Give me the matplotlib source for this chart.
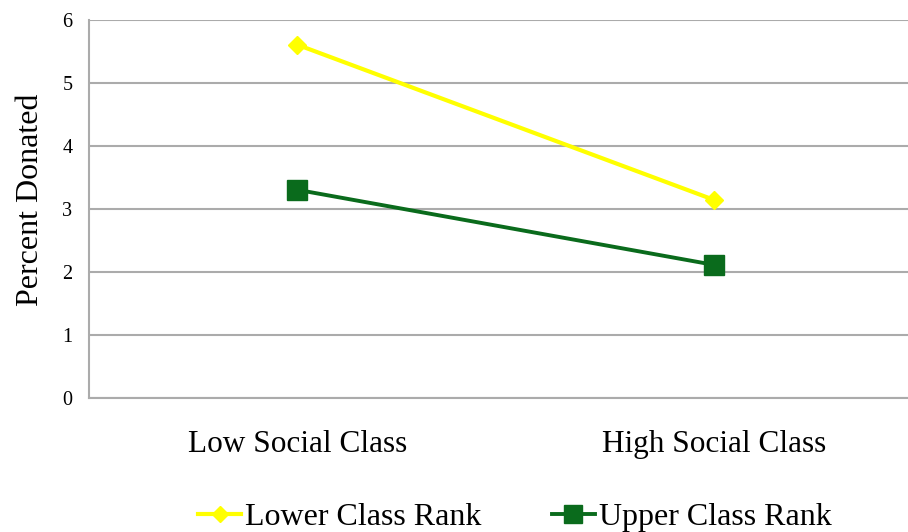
import matplotlib
matplotlib.use("Agg")
import matplotlib.pyplot as plt
from matplotlib.lines import Line2D

categories = ["Low Social Class", "High Social Class"]
lower_rank = [5.6, 3.14]
upper_rank = [3.3, 2.11]
series_names = ["Lower Class Rank", "Upper Class Rank"]
y_ticks = [0, 1, 2, 3, 4, 5, 6]

plt.rcParams["font.family"] = ["Liberation Serif", "DejaVu Serif"]

fig = plt.figure(figsize=(9.08, 5.32), dpi=100)
ax = fig.add_axes([0.098, 0.2519, 0.918, 0.7114])

x = list(range(len(categories)))
yellow = "#ffff00"
green = "#0a6b1c"

ax.plot(x, lower_rank, color=yellow, lw=3.0, marker="D", ms=9.5,
        markeredgecolor=yellow, markerfacecolor=yellow, zorder=3)
ax.plot(x, upper_rank, color=green, lw=2.8, marker="s", ms=14,
        markeredgecolor=green, markerfacecolor=green, zorder=3)

ax.set_xlim(-0.5, 1.5)
ax.set_ylim(0, 6)
ax.set_yticks(y_ticks)
ax.set_yticklabels([str(t) for t in y_ticks], fontsize=14.5)
ax.set_xticks(x)
ax.set_xticklabels(categories, fontsize=22.5)
ax.tick_params(axis="both", length=0)
ax.tick_params(axis="y", pad=12)
ax.tick_params(axis="x", pad=23)

ax.grid(axis="y", color="#ababab", lw=1.5)
ax.set_axisbelow(True)
for side in ["top", "right"]:
    ax.spines[side].set_visible(False)
ax.spines["left"].set_color("#ababab")
ax.spines["left"].set_linewidth(1.5)
ax.spines["bottom"].set_color("#ababab")
ax.spines["bottom"].set_linewidth(1.5)

ax.set_ylabel("Percent Donated", fontsize=23)
ax.yaxis.set_label_coords(-0.053, 0.525)

handles = [
    Line2D([], [], color=yellow, lw=3.0, marker="D", ms=8, markeredgecolor=yellow),
    Line2D([], [], color=green, lw=2.8, marker="s", ms=13, markeredgecolor=green),
]
fig.legend(handles, series_names, loc="center", bbox_to_anchor=(0.567, 0.027),
           ncol=2, frameon=False, fontsize=23, handlelength=1.35,
           handletextpad=0.12, columnspacing=2.2, borderpad=0)

fig.savefig("out.png", dpi=100)
